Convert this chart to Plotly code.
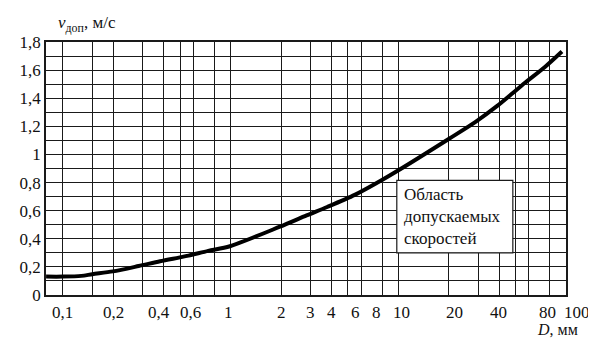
import plotly.graph_objects as go
import math

# Curve data: D (mm) vs permissible velocity (m/s)
D = [0.0795, 0.1, 0.129, 0.15, 0.199, 0.283, 0.38, 0.491, 0.562, 0.736,
     0.991, 1.97, 2.84, 3.77, 5.5, 7.39, 10.2, 20.1, 28.9, 38.9, 48.2,
     56.7, 75.2, 94.6]
v = [0.131, 0.131, 0.136, 0.148, 0.168, 0.206, 0.24, 0.266, 0.28, 0.314,
     0.347, 0.486, 0.566, 0.626, 0.712, 0.795, 0.893, 1.112, 1.232, 1.345,
     1.437, 1.508, 1.624, 1.732]

# Grid / tick definitions
x_grid = [0.1, 0.15, 0.2, 0.3, 0.4, 0.5, 0.6, 0.8, 1, 2, 3, 4, 5, 6, 8,
          10, 20, 30, 40, 50, 60, 80]
x_label_vals = [0.1, 0.2, 0.4, 0.6, 1, 2, 3, 4, 6, 8, 10, 20, 40, 80, 100]
x_label_text = ["0,1", "0,2", "0,4", "0,6", "1", "2", "3", "4", "6", "8",
                "10", "20", "40", "80", "100"]
y_tick_vals = [0, 0.2, 0.4, 0.6, 0.8, 1.0, 1.2, 1.4, 1.6, 1.8]
y_tick_text = ["0", "0,2", "0,4", "0,6", "0,8", "1", "1,2", "1,4", "1,6",
               "1,8"]
box_lines = ["Область", "допускаемых", "скоростей"]

FONT = "Liberation Serif, Times New Roman, serif"
GRID = "#1a1a1a"
TXT = "#111111"

fig = go.Figure()
fig.add_trace(go.Scatter(x=D, y=v, mode="lines",
                         line=dict(color="black", width=4, shape="spline",
                                   smoothing=0.8),
                         hoverinfo="skip", showlegend=False))

fig.update_xaxes(type="log", range=[math.log10(0.0794), 2],
                 tickmode="array", tickvals=x_grid, showticklabels=False,
                 showgrid=True, gridcolor=GRID, gridwidth=1.2,
                 showline=True, linecolor=GRID, linewidth=1.5, mirror=True,
                 ticks="", zeroline=False)
fig.update_yaxes(range=[0, 1.8], tickmode="array", tickvals=y_tick_vals,
                 ticktext=y_tick_text,
                 showgrid=True, gridcolor=GRID, gridwidth=1.2,
                 minor=dict(tick0=0, dtick=0.1, showgrid=True,
                            gridcolor=GRID, gridwidth=1.2, ticks=""),
                 showline=True, linecolor=GRID, linewidth=1.5, mirror=True,
                 ticks="", zeroline=False,
                 tickfont=dict(family=FONT, size=17, color=TXT))

# x tick labels (placed as in the reference)
x_shift = {0.4: -5, 0.6: -3, 1: -2, 6: -6, 8: -6, 10: 3, 20: 6, 40: -1,
           80: -2, 100: 11}
for val, txt in zip(x_label_vals, x_label_text):
    fig.add_annotation(xref="x", yref="paper", x=math.log10(val), y=0,
                       yanchor="top", yshift=-6, xshift=x_shift.get(val, 0),
                       xanchor="center", showarrow=False, text=txt,
                       font=dict(family=FONT, size=17, color=TXT))

# White label box
fig.add_shape(type="rect", xref="x", yref="y",
              x0=9.8, x1=48.2, y0=0.3, y1=0.815,
              fillcolor="white", line=dict(color=GRID, width=1.2),
              layer="above")
fig.add_annotation(xref="x", yref="y", x=math.log10(9.8), y=0.56,
                   xanchor="left", yanchor="middle", xshift=5,
                   text="<br>".join(box_lines), align="left",
                   showarrow=False,
                   font=dict(family=FONT, size=17, color=TXT))

# Axis titles
fig.add_annotation(xref="paper", yref="paper", x=0.019, y=1.071,
                   xanchor="left", yanchor="middle", showarrow=False,
                   text="<i>v</i><sub>доп</sub>, м/с",
                   font=dict(family=FONT, size=17, color=TXT))
fig.add_annotation(xref="paper", yref="paper", x=1.0265, y=-0.136,
                   xanchor="right", yanchor="middle", showarrow=False,
                   text="<i>D</i>, мм",
                   font=dict(family=FONT, size=16, color=TXT))

# page body has an 8 px margin, so the figure is shrunk by 8 px
fig.update_layout(width=588, height=330,
                  margin=dict(l=29, r=30, t=34, b=43),
                  paper_bgcolor="white", plot_bgcolor="white")

fig.write_html("out.html")
